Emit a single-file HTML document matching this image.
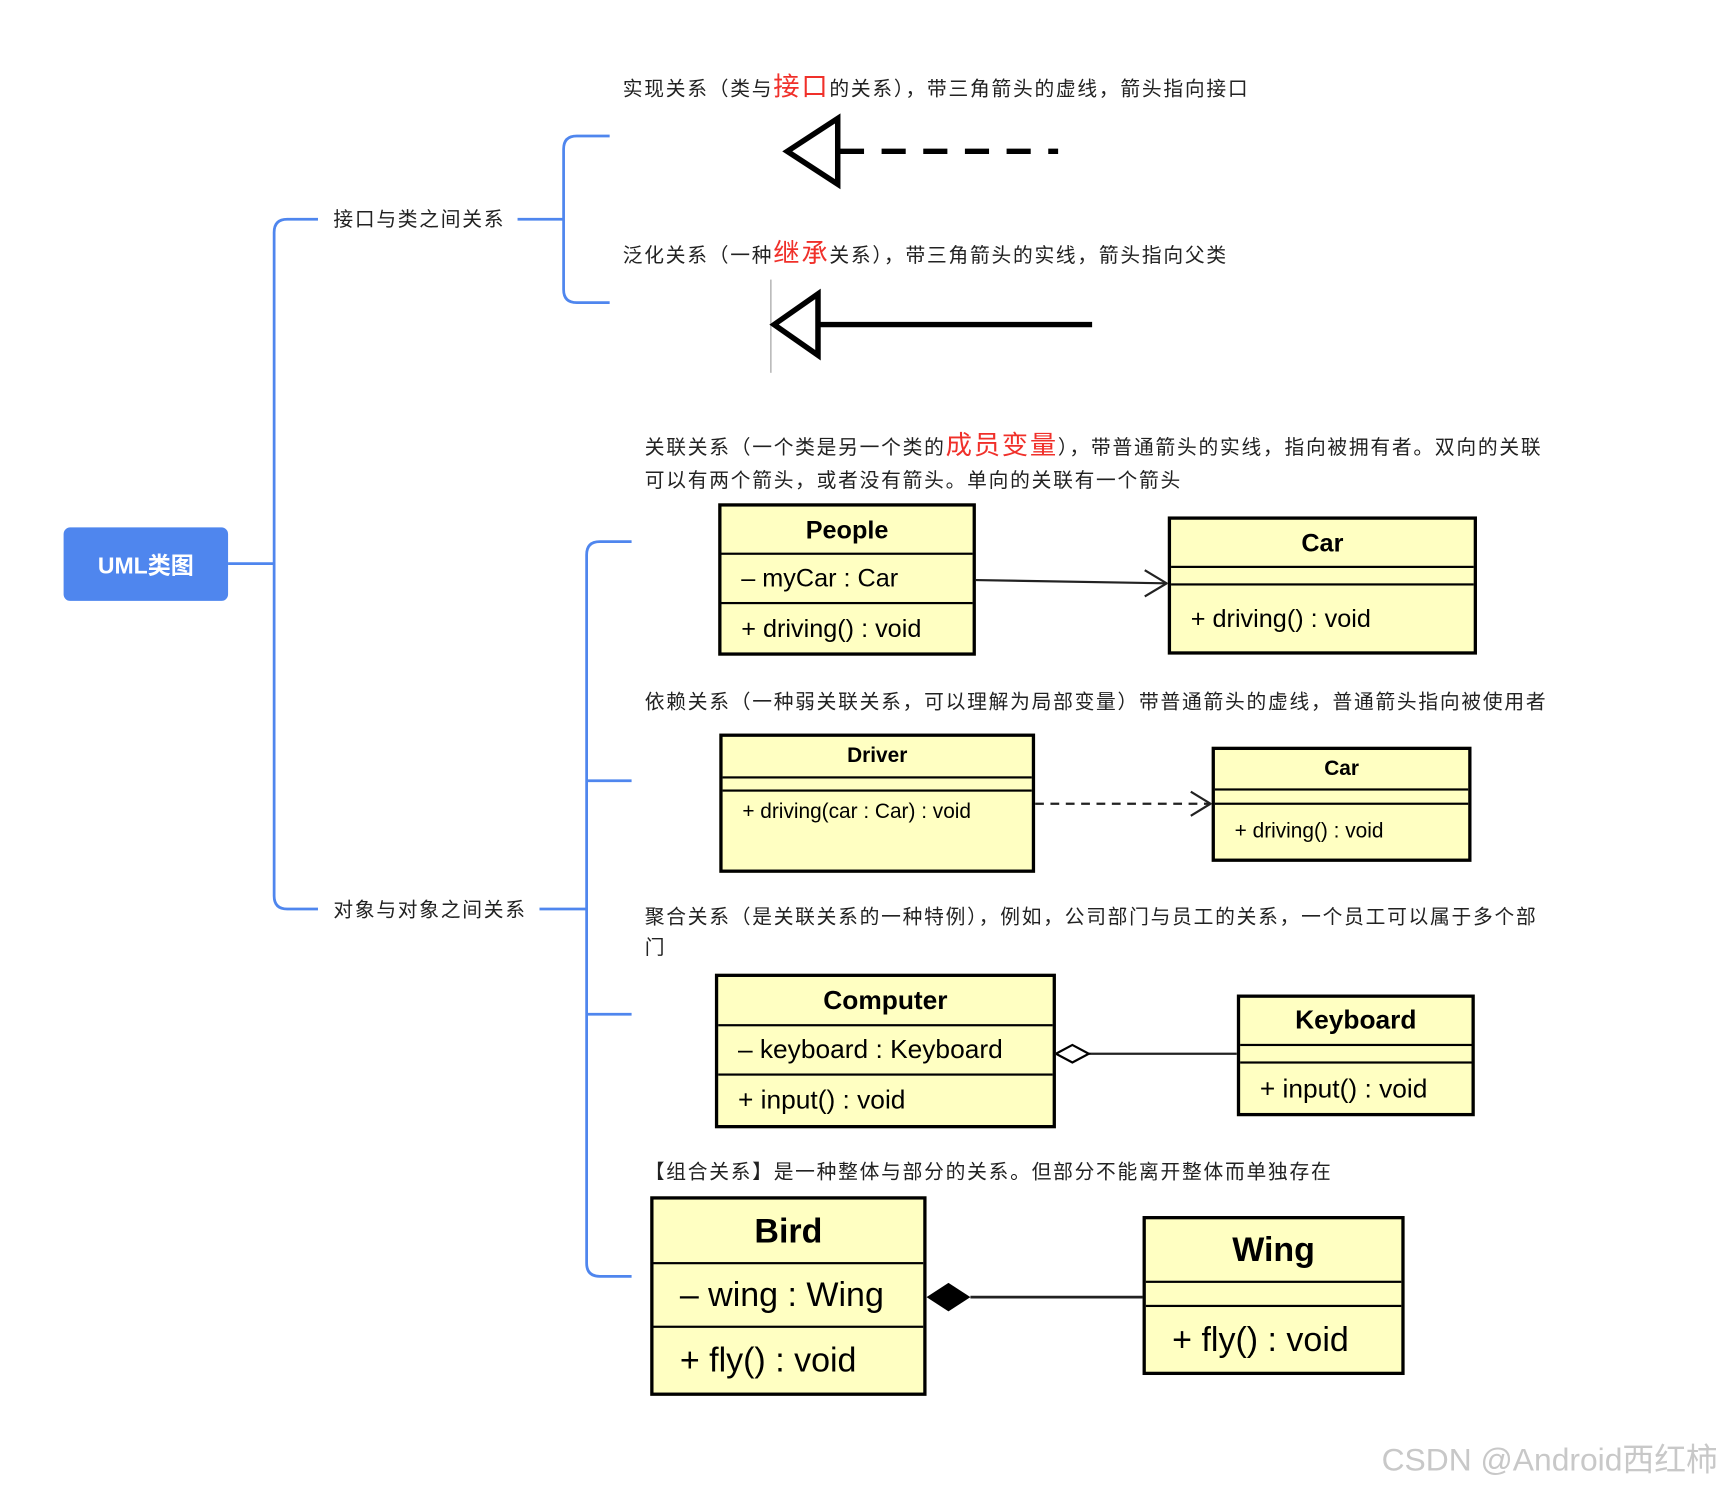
<!DOCTYPE html>
<html><head><meta charset="utf-8"><style>
html,body{margin:0;padding:0;background:#fff;overflow:hidden}
#w{position:absolute;left:0;top:0;width:1565px;height:1359px;transform:scale(1.0965);transform-origin:0 0;font-family:"Liberation Sans","Noto Sans CJK SC",sans-serif;color:#222}
.t{position:absolute;font-size:18px;white-space:nowrap;line-height:1;letter-spacing:1.6px}
.r{color:#f0302a;font-size:24px}
.c{position:absolute;background:#ffffc2;border:3px solid #000;box-sizing:border-box}
.c div{box-sizing:border-box;border-bottom:2px solid #000;display:flex;align-items:center;color:#000}
.c div:last-child{border-bottom:none}
.h{justify-content:center;font-weight:bold}
.a{padding-left:18px}
</style></head><body><div id="w">
<svg width="1565" height="1359" style="position:absolute;left:0;top:0">
<g fill="none" stroke="#4f86ee" stroke-width="2.5">
<path d="M208 514H250"/>
<path d="M290 200H262Q250 200 250 212V817Q250 829 262 829H290"/>
<path d="M472 200H514"/>
<path d="M556 124H526Q514 124 514 136V264Q514 276 526 276H556"/>
<path d="M492 829H535"/>
<path d="M576 494H547Q535 494 535 506V1152Q535 1164 547 1164H576"/>
<path d="M535 712H576M535 925H576"/>
</g>
<polygon points="764,108 764,168 718,138" fill="#fff" stroke="#000" stroke-width="5"/>
<path d="M766 138H965" stroke="#000" stroke-width="5" stroke-dasharray="22,16" fill="none"/>
<line x1="703" y1="255" x2="703" y2="340" stroke="#bbb" stroke-width="1.5"/>
<polygon points="746,268 746,324 706,296" fill="#fff" stroke="#000" stroke-width="5"/>
<line x1="746" y1="296" x2="996" y2="296" stroke="#000" stroke-width="5"/>
<g stroke="#222" stroke-width="2" fill="none">
<path d="M890 529L1064 532"/><path d="M1044 520L1064 532L1044 544"/>
<path d="M944 733H1104" stroke-dasharray="8,6"/><path d="M1086 722L1104 733L1086 744"/>
<path d="M993 961H1128"/>
<path d="M885 1183H1042" stroke-width="2.5"/>
</g>
<polygon points="963,961 978,953 993,961 978,969" fill="#fff" stroke="#000" stroke-width="2"/>
<polygon points="845,1183 865,1170 885,1183 865,1196" fill="#000"/>
</svg>
<div style="position:absolute;left:58px;top:481px;width:150px;height:67px;background:#4f86ee;border-radius:6px;color:#fff;font-weight:bold;font-size:21px;display:flex;align-items:center;justify-content:center">UML类图</div>
<div class="t" style="left:304px;top:191px">接口与类之间关系</div>
<div class="t" style="left:304px;top:821px">对象与对象之间关系</div>
<div class="t" style="left:568px;top:68px">实现关系（类与<span class="r">接口</span>的关系），带三角箭头的虚线，箭头指向接口</div>
<div class="t" style="left:568px;top:220px">泛化关系（一种<span class="r">继承</span>关系），带三角箭头的实线，箭头指向父类</div>
<div class="t" style="left:588px;top:395px">关联关系（一个类是另一个类的<span class="r">成员变量</span>），带普通箭头的实线，指向被拥有者。双向的关联</div>
<div class="t" style="left:588px;top:429px">可以有两个箭头，或者没有箭头。单向的关联有一个箭头</div>
<div class="t" style="left:588px;top:631px">依赖关系（一种弱关联关系，可以理解为局部变量）带普通箭头的虚线，普通箭头指向被使用者</div>
<div class="t" style="left:588px;top:827px">聚合关系（是关联关系的一种特例），例如，公司部门与员工的关系，一个员工可以属于多个部</div>
<div class="t" style="left:588px;top:855px">门</div>
<div class="t" style="left:588px;top:1060px">【组合关系】是一种整体与部分的关系。但部分不能离开整体而单独存在</div>

<div class="c" style="left:655px;top:459px;width:235px;height:139px;font-size:23px">
<div class="h" style="height:44px">People</div><div class="a" style="height:45px">– myCar : Car</div><div class="a" style="height:44px">+ driving() : void</div></div>
<div class="c" style="left:1065px;top:471px;width:282px;height:126px;font-size:23px">
<div class="h" style="height:44px">Car</div><div style="height:16px"></div><div class="a" style="height:60px">+ driving() : void</div></div>

<div class="c" style="left:656px;top:669px;width:288px;height:127px;font-size:19px">
<div class="h" style="height:38px">Driver</div><div style="height:12px"></div><div class="a" style="height:70px;align-items:flex-start;padding-top:8px">+ driving(car : Car) : void</div></div>
<div class="c" style="left:1105px;top:681px;width:237px;height:105px;font-size:19px">
<div class="h" style="height:37px">Car</div><div style="height:13px"></div><div class="a" style="height:50px">+ driving() : void</div></div>

<div class="c" style="left:652px;top:888px;width:311px;height:141px;font-size:24px">
<div class="h" style="height:45px">Computer</div><div class="a" style="height:45px">– keyboard : Keyboard</div><div class="a" style="height:45px">+ input() : void</div></div>
<div class="c" style="left:1128px;top:907px;width:217px;height:111px;font-size:24px">
<div class="h" style="height:44px">Keyboard</div><div style="height:16px"></div><div class="a" style="height:48px">+ input() : void</div></div>

<div class="c" style="left:593px;top:1091px;width:252px;height:182px;font-size:31px">
<div class="h" style="height:59px">Bird</div><div class="a" style="height:58px;padding-left:24px">– wing : Wing</div><div class="a" style="height:60px;padding-left:24px">+ fly() : void</div></div>
<div class="c" style="left:1042px;top:1109px;width:239px;height:145px;font-size:31px">
<div class="h" style="height:58px">Wing</div><div style="height:22px"></div><div class="a" style="height:60px;padding-left:24px">+ fly() : void</div></div>

<div class="t" style="left:1260px;top:1318px;font-size:29px;color:#c8c8c8;letter-spacing:0">CSDN @Android西红柿</div>
</div></body></html>
